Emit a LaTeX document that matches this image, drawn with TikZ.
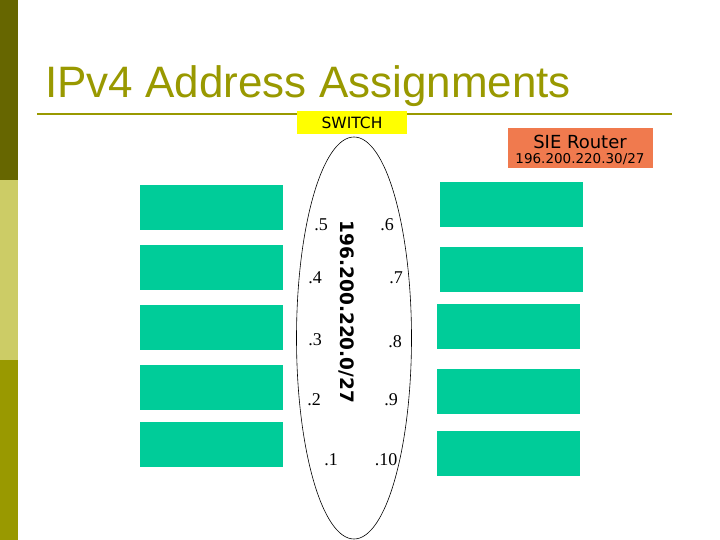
\documentclass[tikz,border=0pt]{standalone}
\usepackage{fontspec}
\setmainfont{Liberation Serif}
\newfontfamily\arialf{Liberation Sans}
\newfontfamily\tahf{DejaVu Sans}
\usetikzlibrary{shapes.geometric}
\definecolor{olivedark}{HTML}{666600}
\definecolor{olivelight}{HTML}{CCCC66}
\definecolor{olivemid}{HTML}{999900}
\definecolor{titlecol}{HTML}{999900}
\definecolor{hostgreen}{HTML}{00CC99}
\definecolor{routercol}{HTML}{F07A4E}
\definecolor{switchyel}{HTML}{FFFF00}
\begin{document}
\begin{tikzpicture}[x=1pt,y=-1pt,
  hostbox/.style={fill=hostgreen,draw=none,minimum width=143pt,minimum height=45pt,inner sep=0pt,anchor=north west},
  addr/.style={font=\fontsize{18}{20}\selectfont,inner sep=0pt}]
\useasboundingbox (0,0) rectangle (720,540);
\fill[white] (0,0) rectangle (720,540);
% side bar
\fill[olivedark] (0,0) rectangle (18,180);
\fill[olivelight] (0,180) rectangle (18,360);
\fill[olivemid] (0,360) rectangle (18,540);
% title
\node[anchor=base west,inner sep=0pt,text=titlecol,font=\arialf\fontsize{44}{50}\selectfont] (title) at (45,98) {IPv4 Address Assignments};
\draw[olivemid,line width=2pt] (37,114) -- (672,114);
% switch
\node[fill=switchyel,minimum width=110pt,minimum height=23pt,inner sep=0pt,font=\tahf\fontsize{15.5}{17}\selectfont] (switch) at (352,122.5) {SWITCH};
% router
\node[fill=routercol,minimum width=145pt,minimum height=40pt,inner sep=0pt] (router) at (580.5,148) {};
\node[inner sep=0pt,font=\tahf\fontsize{18}{20}\selectfont] (rname) at (580,141.5) {SIE Router};
\node[inner sep=0pt,font=\tahf\fontsize{13.5}{15}\selectfont] (raddr) at (580,159) {196.200.220.30/27};
% ellipse
\node[ellipse,draw=black,line width=0.6pt,minimum width=115pt,minimum height=402pt,inner sep=0pt] (lan) at (354,338) {};
% network label
\node[rotate=-90,inner sep=0pt,font=\tahf\bfseries\fontsize{18.5}{20}\selectfont] (net) at (347,312) {196.200.220.0/27};
% host boxes left
\node[hostbox] (h5) at (140,185) {};
\node[hostbox] (h4) at (140,245) {};
\node[hostbox] (h3) at (140,305) {};
\node[hostbox] (h2) at (140,365) {};
\node[hostbox] (h1) at (140,422) {};
% host boxes right
\node[hostbox] (h6) at (440,182) {};
\node[hostbox] (h7) at (440,247) {};
\node[hostbox] (h8) at (437,304) {};
\node[hostbox] (h9) at (437,369) {};
\node[hostbox] (h10) at (437,431) {};
% addresses
\node[addr] (a5) at (321,225) {.5};
\node[addr] (a6) at (387,225) {.6};
\node[addr] (a4) at (315,278) {.4};
\node[addr] (a7) at (396,278) {.7};
\node[addr] (a3) at (315,340) {.3};
\node[addr] (a8) at (395,342) {.8};
\node[addr] (a2) at (314,400) {.2};
\node[addr] (a9) at (391,400) {.9};
\node[addr] (a1) at (331,460) {.1};
\node[addr] (a10) at (386,460) {.10};
\end{tikzpicture}
\end{document}
